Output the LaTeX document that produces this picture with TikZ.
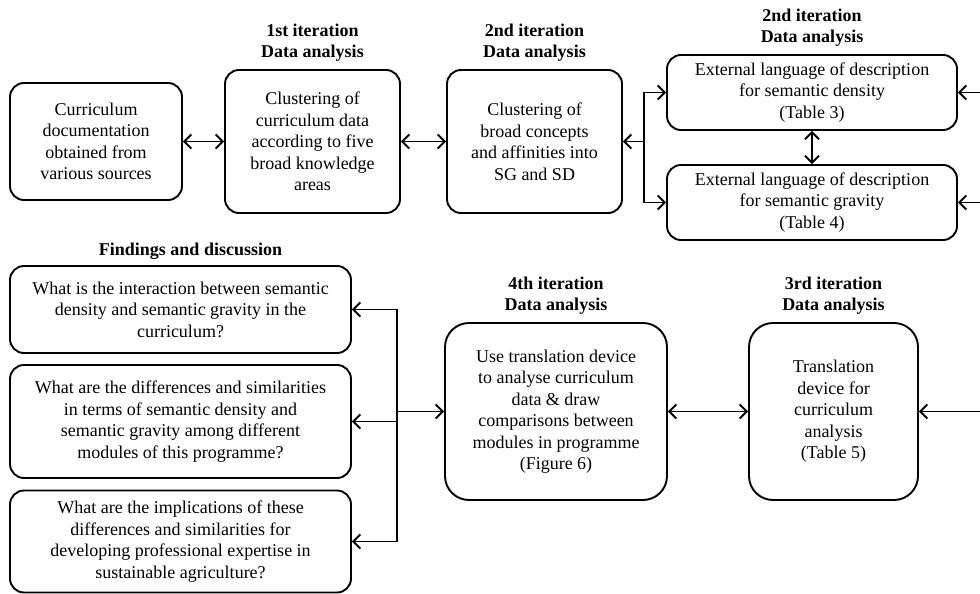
\documentclass[tikz,border=0pt]{standalone}
\usepackage{fontspec}
\setmainfont{Liberation Serif}
\usetikzlibrary{arrows.meta,positioning,calc}

\begin{document}
\begin{tikzpicture}[
    x=1pt, y=-1pt,
    node distance=6pt,
    box/.style={draw, line width=1.9pt, rounded corners=14pt, align=center, inner sep=3pt, font=\fontsize{18}{21.5}\selectfont},
    bigbox/.style={box, rounded corners=24pt},
    head/.style={align=center, inner sep=1pt, font=\fontsize{18}{21.5}\selectfont\bfseries},
    arrow/.style={-{Straight Barb[length=7pt,width=14pt]}, line width=1.9pt},
    twoway/.style={{Straight Barb[length=7pt,width=14pt]}-{Straight Barb[length=7pt,width=14pt]}, line width=1.9pt}
  ]
    \useasboundingbox (0,0) rectangle (980,594);

    % top row
    \node[box, minimum width=172pt, minimum height=117pt] (doc) at (96,141.5) {Curriculum\\documentation\\obtained from\\various sources};
    \node[box, minimum width=175pt, minimum height=143pt] (clus1) at (312.5,141.5) {Clustering of\\curriculum data\\according to five\\broad knowledge\\areas};
    \node[box, minimum width=175pt, minimum height=143pt] (clus2) at (534.5,141.5) {Clustering of\\broad concepts\\and affinities into\\SG and SD};
    \node[box, minimum width=290pt, minimum height=75pt] (sd) at (812,92.5) {External language of description\\for semantic density\\(Table 3)};
    \node[box, minimum width=290pt, minimum height=75pt] (sg) at (812,202.5) {External language of description\\for semantic gravity\\(Table 4)};

    \node[head, above=of clus1] (h1) {1st iteration\\Data analysis};
    \node[head, above=of clus2] (h2) {2nd iteration\\Data analysis};
    \node[head, above=of sd] (h3) {2nd iteration\\Data analysis};

    % bottom row
    \node[box, minimum width=341pt, minimum height=87pt] (q1) at (180.5,309.5) {What is the interaction between semantic\\density and semantic gravity in the\\curriculum?};
    \node[box, minimum width=341pt, minimum height=113pt] (q2) at (180.5,421.5) {What are the differences and similarities\\in terms of semantic density and\\semantic gravity among different\\modules of this programme?};
    \node[box, minimum width=341pt, minimum height=102pt] (q3) at (180.5,541.5) {What are the implications of these\\differences and similarities for\\developing professional expertise in\\sustainable agriculture?};
    \node[bigbox, minimum width=222pt, minimum height=177pt] (use) at (556,411.5) {Use translation device\\to analyse curriculum\\data \& draw\\comparisons between\\modules in programme\\(Figure 6)};
    \node[bigbox, minimum width=169pt, minimum height=177pt] (td) at (833.5,411.5) {Translation\\device for\\curriculum\\analysis\\(Table 5)};

    \node[head, above=4pt of q1, xshift=10pt] (h0) {Findings and discussion};
    \node[head, above=of use] (h4) {4th iteration\\Data analysis};
    \node[head, above=of td] (h5) {3rd iteration\\Data analysis};

    % connectors
    \coordinate (split) at ($(clus2.east)+(21,0)$);
    \coordinate (bus) at ($(use.west)+(-47,0)$);
    \coordinate (inSD) at ($(sd.east)+(24,0)$);
    \coordinate (inSG) at ($(sg.east)+(24,0)$);
    \coordinate (inTD) at ($(td.east)+(63,0)$);

    \draw[twoway] (doc) -- (clus1);
    \draw[twoway] (clus1) -- (clus2);
    \draw[arrow] (split) -- (clus2);
    \draw[arrow] (split) |- (sd);
    \draw[arrow] (split) |- (sg);
    \draw[twoway] (sd) -- (sg);
    \draw[arrow] (inSD) -- (sd);
    \draw[arrow] (inSG) -- (sg);
    \draw[arrow] (inTD) -- (td);
    \draw[twoway] (use) -- (td);
    \draw[arrow] (bus) -- (use);
    \draw[arrow] (bus) |- (q1);
    \draw[arrow] (bus) |- (q2);
    \draw[arrow] (bus) |- (q3);
\end{tikzpicture}
\end{document}
